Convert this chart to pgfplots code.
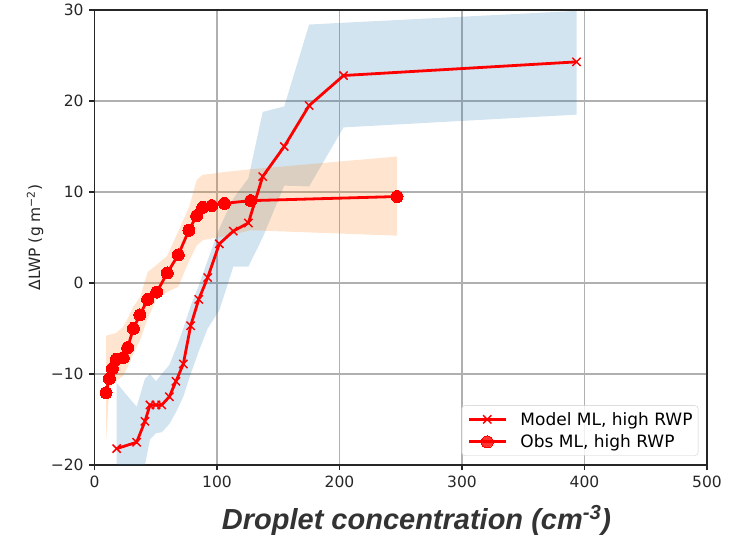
\documentclass[border=0pt]{standalone}
\usepackage{pgfplots}
\pgfplotsset{compat=1.18}
\usepgfplotslibrary{fillbetween}
\usepackage{fontspec}
\setmainfont{DejaVu Sans}
\newfontfamily\lib{Liberation Sans}
\definecolor{tabblue}{HTML}{1F77B4}
\definecolor{taborange}{HTML}{FF7F0E}
\definecolor{gridgray}{HTML}{B0B0B0}
\definecolor{labgray}{HTML}{333333}

\pgfplotstableread{
x upper lower
18.1 -11.0 -22.0
34.4 -13.6 -21.5
41.2 -10.5 -20.0
45.3 -10.0 -17.2
50.2 -10.8 -16.5
54.9 -10.0 -16.4
61.1 -9.0 -15.5
66.5 -7.2 -14.2
72.5 -5.0 -12.5
78.5 -2.5 -10.0
85.1 -0.3 -7.5
92.4 2.5 -5.0
101.9 6.0 -3.0
113.3 9.3 1.8
125.6 11.5 1.8
137.3 18.8 5.0
154.9 19.4 10.7
175.2 28.4 10.6
203.3 28.6 17.1
393.5 29.9 18.5
}\modelband

\pgfplotstableread{
x upper lower
9.4 -5.8 -17.5
12.1 -5.7 -11.5
14.6 -5.6 -11.2
17.6 -5.5 -10.8
23.5 -4.8 -10.2
27.1 -3.9 -9.2
31.7 -2.6 -7.8
37.1 -1.6 -6.3
43.4 1.2 -3.9
50.8 2.0 -1.7
59.4 3.0 -1.0
68.4 5.7 -0.4
77.1 8.3 2.4
83.4 11.3 4.1
88.3 11.9 4.7
95.7 12.0 4.9
106.0 12.2 5.1
127.5 12.5 5.8
247.0 13.9 5.2
}\obsband

\pgfplotstableread{
x y
18.1 -18.2
34.4 -17.5
41.2 -15.2
45.3 -13.4
50.2 -13.4
54.9 -13.4
61.1 -12.5
66.5 -10.8
72.5 -8.9
78.5 -4.7
85.1 -1.8
92.4 0.6
101.9 4.3
113.3 5.7
125.6 6.6
137.3 11.7
154.9 15.0
175.2 19.5
203.3 22.8
393.5 24.3
}\model

\pgfplotstableread{
x y
9.4 -12.05
12.1 -10.5
14.6 -9.4
17.6 -8.4
23.5 -8.2
27.1 -7.1
31.7 -5.0
37.1 -3.5
43.4 -1.8
50.8 -1.0
59.4 1.1
68.4 3.1
77.1 5.8
83.4 7.4
88.3 8.3
95.7 8.5
106.0 8.75
127.5 9.05
247.0 9.5
}\obs

\begin{document}
\begin{tikzpicture}
\begin{axis}[
  scale only axis, width=612.5pt, height=455pt,
  xmin=0, xmax=500, ymin=-20, ymax=30,
  xtick={0,100,200,300,400,500},
  ytick={-20,-10,0,10,20,30},
  xticklabels={0,100,200,300,400,500},
  yticklabels={−20,−10,0,10,20,30},
  xtick pos=bottom, ytick pos=left,
  tick align=outside, major tick length=5.4pt,
  tick style={black!85, line width=1.2pt},
  axis line style={black!85, line width=1.2pt},
  grid=major, major grid style={gridgray, line width=1.2pt},
  ticklabel style={font=\fontsize{15.5}{18}\selectfont, text=black!85},
  yticklabel style={anchor=east, inner sep=0pt, xshift=-5.4pt},
  xticklabel style={anchor=north, inner sep=0pt, yshift=-5.4pt},
  legend cell align=left,
  legend image code/.code={\draw[mark repeat=2,mark phase=2] plot coordinates {(0pt,0pt) (18.5pt,0pt) (37pt,0pt)};},
  legend style={at={(rel axis cs:1,0)}, anchor=south east, xshift=-8.7pt, yshift=9.3pt,
    draw=black!20, rounded corners=3pt, fill=white, fill opacity=0.8, text opacity=1,
    font=\fontsize{17}{20}\selectfont, inner xsep=5.6pt, inner ysep=6.5pt, row sep=8pt,
    nodes={inner sep=0pt},
    /tikz/every odd column/.append style={column sep=13.3pt}},
]
\coordinate (ll) at (rel axis cs:0,0);
\coordinate (ur) at (rel axis cs:1,1);
\coordinate (xl) at (rel axis cs:0.5257,0);
\coordinate (yl) at (rel axis cs:0,0.5);

\addplot[name path=mu, draw=none, forget plot] table[x=x, y=upper] {\modelband};
\addplot[name path=ml, draw=none, forget plot] table[x=x, y=lower] {\modelband};
\addplot[tabblue, fill opacity=0.2, draw=none, forget plot] fill between[of=mu and ml];

\addplot[name path=ou, draw=none, forget plot] table[x=x, y=upper] {\obsband};
\addplot[name path=ol, draw=none, forget plot] table[x=x, y=lower] {\obsband};
\addplot[taborange, fill opacity=0.2, draw=none, forget plot] fill between[of=ou and ol];

\addplot[red, line width=2.8pt, line join=round, mark=x, mark size=5.8pt,
  mark options={line width=1.5pt, solid}] table[x=x, y=y] {\model};
\addlegendentry{Model ML, high RWP}
\addplot[red, line width=2.8pt, line join=round, mark=*, mark size=6pt,
  mark options={fill=red, draw=red, line width=0pt, solid}] table[x=x, y=y] {\obs};
\addlegendentry{Obs ML, high RWP}
\end{axis}
\node[anchor=base, text=labgray, font=\lib\bfseries\itshape\fontsize{29}{35}\selectfont]
  at ([yshift=-64pt]xl) {Droplet concentration (cm\textsuperscript{-3})};
\node[rotate=90, anchor=center, text=black!85, font=\fontsize{15.5}{18}\selectfont]
  at ([xshift=-59.5pt]yl) {ΔLWP (g m\textsuperscript{−2})};
\pgfresetboundingbox
\path[use as bounding box] ([shift={(-94.5pt,-74pt)}]ll) rectangle ([shift={(24pt,10pt)}]ur);
\end{tikzpicture}
\end{document}
